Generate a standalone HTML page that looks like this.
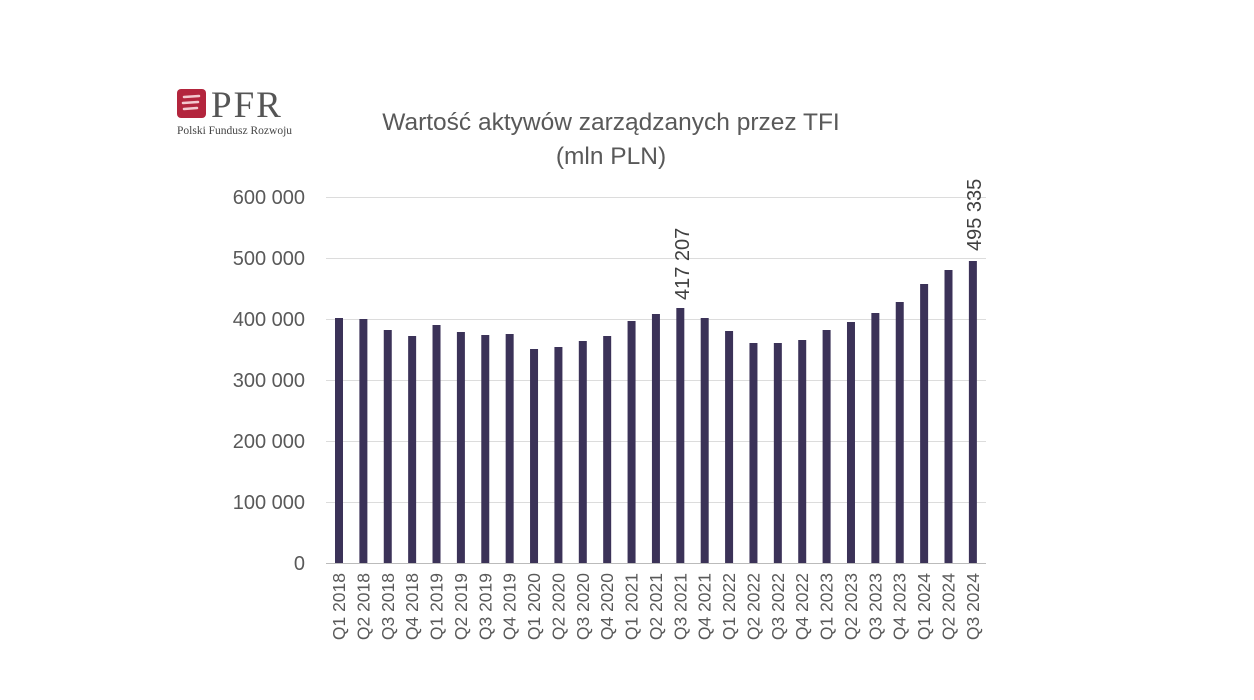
<!DOCTYPE html>
<html><head><meta charset="utf-8"><style>
body{margin:0;background:#fff;}
svg{display:block;font-family:"Liberation Sans",sans-serif;}
</style></head><body>
<svg width="1254" height="700" viewBox="0 0 1254 700" xmlns="http://www.w3.org/2000/svg">
<rect x="177" y="89" width="29" height="29" rx="4" fill="#b3253d"/>
<path d="M184 97 L199 96 M183 103 L198 102 M184 109 L197 108" stroke="#f3c9cf" stroke-width="2.5" stroke-linecap="round"/>
<text x="211" y="117" font-family="Liberation Serif,serif" font-size="37" fill="#555" letter-spacing="2">PFR</text>
<text x="177" y="134" font-family="Liberation Serif,serif" font-size="11.5" fill="#444">Polski Fundusz Rozwoju</text>
<text x="611" y="130" text-anchor="middle" font-size="24.5" fill="#595959">Wartość aktywów zarządzanych przez TFI</text>
<text x="611" y="164" text-anchor="middle" font-size="24.5" fill="#595959">(mln PLN)</text>
<g stroke="#dcdcdc" stroke-width="1">
<line x1="326" x2="986" y1="197.5" y2="197.5"/><line x1="326" x2="986" y1="258.5" y2="258.5"/>
<line x1="326" x2="986" y1="319.5" y2="319.5"/><line x1="326" x2="986" y1="380.5" y2="380.5"/>
<line x1="326" x2="986" y1="441.5" y2="441.5"/><line x1="326" x2="986" y1="502.5" y2="502.5"/>
</g>
<line x1="326" x2="986" y1="563.5" y2="563.5" stroke="#bbb"/>
<g font-size="20" fill="#595959" text-anchor="end">
<text x="305" y="204">600 000</text><text x="305" y="265">500 000</text><text x="305" y="326">400 000</text>
<text x="305" y="387">300 000</text><text x="305" y="448">200 000</text><text x="305" y="509">100 000</text>
<text x="305" y="570">0</text>
</g>
<g id="bars" fill="#3b3258"></g>
<g id="labels" font-size="17.5" fill="#595959"></g>
<text transform="translate(689,300) rotate(-90)" font-size="20" fill="#404040">417 207</text>
<text transform="translate(981,251) rotate(-90)" font-size="20" fill="#404040">495 335</text>
<script>
var tops=[318,319,330,336,325,332,335,334,349,347,341,336,321,314,308,318,331,343,343,340,330,322,313,302,284,270,261];
var b=document.getElementById('bars'),l=document.getElementById('labels'),ns='http://www.w3.org/2000/svg';
for(var i=0;i<27;i++){var cx=339+i*24.38;
var r=document.createElementNS(ns,'rect');r.setAttribute('x',cx-4);r.setAttribute('y',tops[i]);r.setAttribute('width',8);r.setAttribute('height',563-tops[i]);b.appendChild(r);
var t=document.createElementNS(ns,'text');t.setAttribute('transform','translate('+(cx+6)+',573) rotate(-90)');t.setAttribute('text-anchor','end');
t.textContent='Q'+(i%4+1)+' '+(2018+Math.floor(i/4));l.appendChild(t);}
</script>
</svg>
</body></html>
